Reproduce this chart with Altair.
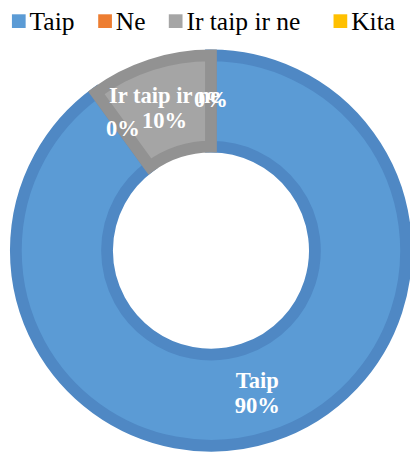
import altair as alt
import pandas as pd

categories = ["Taip", "Ne", "Ir taip ir ne", "Kita"]
values = [90, 0, 10, 0]
fill_colors = ["#5B9BD5", "#ED7D31", "#A5A5A5", "#FFC000"]
edge_colors = ["#4F88C4", "#D46E2A", "#929292", "#E0A800"]

# legend layout (pixel x of each legend square, chart coordinates)
legend_x = [11, 99, 171, 339]

df = pd.DataFrame({"cat": categories, "value": values, "idx": list(range(len(categories)))})
leg_df = pd.DataFrame({"cat": categories, "lx": legend_x})

W, H = 410, 444
CX, CY = 207, 243
LEG_Y = 9

fill_scale = alt.Scale(domain=categories, range=fill_colors)

base = alt.Chart(df).transform_joinaggregate(
    total="sum(value)"
).transform_window(
    cum="sum(value)", sort=[alt.SortField("idx")], frame=[None, 0]
).transform_calculate(
    t0="(datum.cum - datum.value) / datum.total * 2 * PI",
    t1="datum.cum / datum.total * 2 * PI",
    tm="(datum.cum - datum.value / 2) / datum.total * 2 * PI",
    edge="datum.cat",
    lab="datum.value > 0 ? datum.cat + '\\n' + datum.value + '%' : datum.value + '%'",
)

arcs = base.transform_filter("datum.value > 0").mark_arc(
    outerRadius=199, innerRadius=106, strokeWidth=12, x=CX, y=CY
).encode(
    theta=alt.Theta("t0:Q", scale=None),
    theta2="t1:Q",
    color=alt.Color("cat:N", scale=fill_scale, legend=None),
    stroke=alt.Stroke("edge:N", scale=alt.Scale(domain=categories, range=edge_colors), legend=None),
)

text_style = dict(font="Liberation Serif", fontSize=23, fontWeight="bold", color="white",
                  lineBreak="\n", lineHeight=25, x=CX, y=CY, radius=153)

labels_multi = base.transform_filter("datum.value > 0").mark_text(dy=-12, **text_style).encode(
    theta=alt.Theta("tm:Q", scale=None),
    text="lab:N",
)
labels_zero = base.transform_filter("datum.value <= 0").mark_text(**text_style).encode(
    theta=alt.Theta("tm:Q", scale=None),
    text="lab:N",
)

leg_sym = alt.Chart(leg_df).mark_square(size=196, opacity=1, y=LEG_Y).encode(
    x=alt.X("lx:Q", scale=None),
    color=alt.Color("cat:N", scale=fill_scale, legend=None),
)
leg_txt = alt.Chart(leg_df).transform_calculate(tx="datum.lx + 11").mark_text(
    font="Liberation Serif", fontSize=26, color="black", align="left",
    baseline="middle", y=LEG_Y + 1
).encode(
    x=alt.X("tx:Q", scale=None),
    text="cat:N",
)

chart = alt.layer(arcs, labels_multi, labels_zero, leg_sym, leg_txt).properties(
    width=W, height=H,
    autosize=alt.AutoSizeParams(type="none"),
    padding=0,
).configure_view(stroke=None)

chart.save("out.html", embed_options={"renderer": "svg", "actions": False})
